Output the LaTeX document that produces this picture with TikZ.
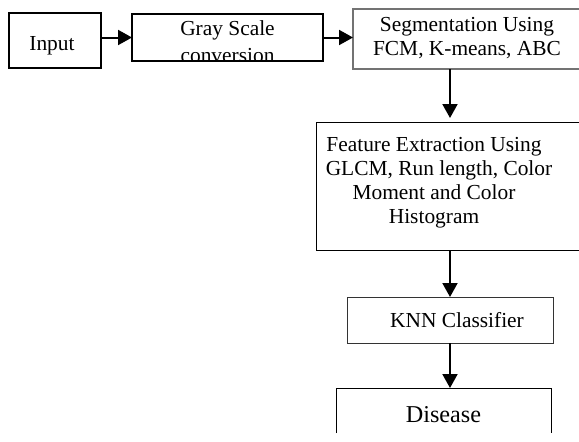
\documentclass[tikz,border=0pt]{standalone}
\usepackage{fontspec}
\setmainfont{Liberation Serif}
\usetikzlibrary{arrows.meta}
\begin{document}
\begin{tikzpicture}[x=1pt,y=-1pt,
  box/.style={draw, inner sep=0pt, outer sep=0pt},
  txt/.style={anchor=base, inner sep=0pt, font=\fontsize{21.4}{24}\selectfont},
  bigtxt/.style={anchor=base, inner sep=0pt, font=\fontsize{24.2}{28}\selectfont},
  arr/.style={line width=2pt, -{Triangle[length=14pt,width=15pt]}}]
\useasboundingbox (0,0) rectangle (579,442);
% boxes
\node[box, line width=2pt, minimum width=92pt, minimum height=55pt] (in) at (55,40.5) {};
\node[box, line width=2pt, minimum width=191pt, minimum height=47pt] (gray) at (227.5,37.5) {};
\node[box, draw=black!55, line width=1.5pt, minimum width=260pt, minimum height=60pt] (seg) at (483,39) {};
\node[box, line width=1pt, minimum width=290pt, minimum height=128pt] (feat) at (461,186) {};
\node[box, draw=black!80, line width=1pt, minimum width=206pt, minimum height=46pt] (knn) at (450,320) {};
\node[inner sep=0pt, outer sep=0pt, minimum width=215pt, minimum height=45pt] (dis) at (443.5,410.5) {};
\draw[line width=1pt] (dis.south west) -- (dis.north west) -- (dis.north east) -- (dis.south east);
% texts
\node[txt] (tin) at (52,50) {Input};
\node[txt] (tg1) at (227.5,35) {Gray Scale};
\begin{scope}
\clip (gray.north west) rectangle (gray.south east);
\node[txt] (tg2) at (227.5,62) {conversion};
\end{scope}
\draw[line width=2pt] (gray.south west) -- (gray.south east);
\node[txt] (ts1) at (467,31) {Segmentation Using};
\node[txt] (ts2) at (467,55) {FCM, K-means, ABC};
\node[txt] (tf1) at (434,151) {Feature Extraction Using};
\node[txt] (tf2) at (439,175) {GLCM, Run length, Color};
\node[txt] (tf3) at (434,199) {Moment and Color};
\node[txt] (tf4) at (434,223) {Histogram};
\node[txt] (tk) at (457,327) {KNN Classifier};
\node[bigtxt] (td) at (443.5,422) {Disease};
% connectors
\draw[arr] (in.east |- gray.west) -- (gray.west);
\draw[arr] (gray.east) -- (gray.east -| seg.west);
\draw[arr, shorten >=4pt] (knn.north |- seg.south) -- (knn.north |- feat.north);
\draw[arr] (knn.north |- feat.south) -- (knn.north);
\draw[arr] (knn.south) -- (knn.south |- dis.north);
\end{tikzpicture}
\end{document}
